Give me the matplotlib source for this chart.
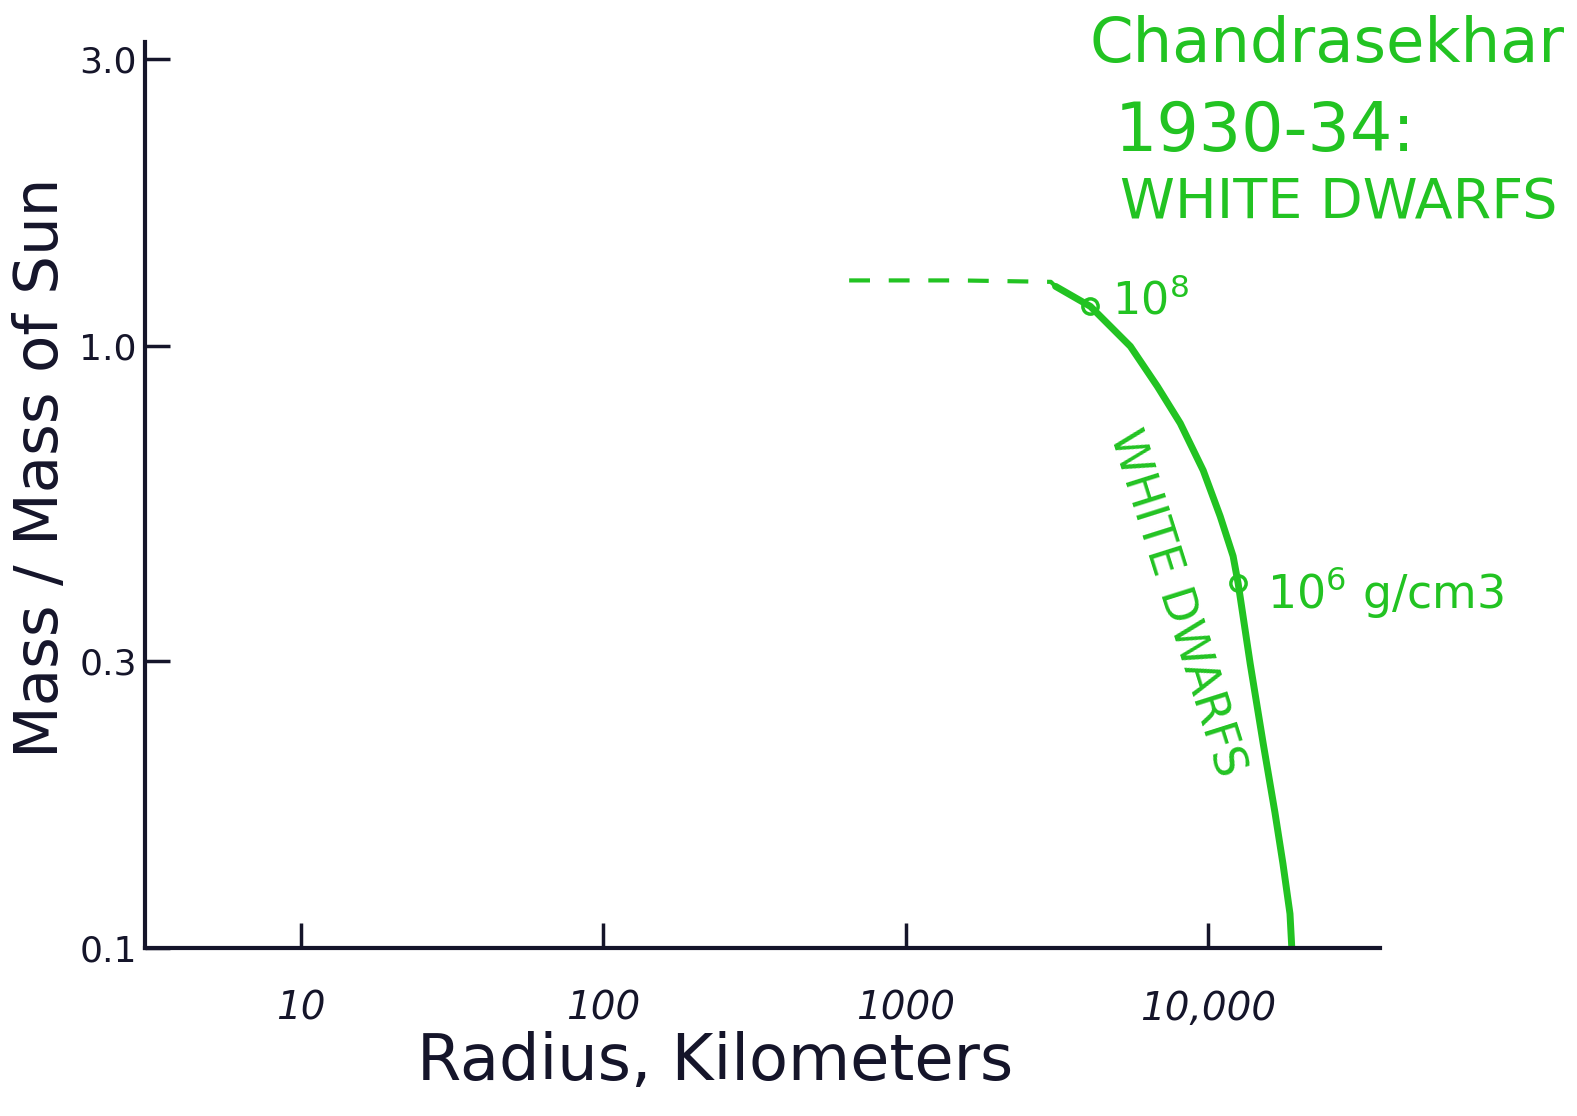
import matplotlib
matplotlib.use("Agg")
import matplotlib.pyplot as plt
from matplotlib.ticker import NullLocator

# Chandrasekhar white dwarf mass-radius relation
radius_dashed = [650, 1500, 3020, 3130]
mass_dashed = [1.287, 1.287, 1.28, 1.258]

radius_solid = [3130, 4083, 5534, 6796, 8091, 9636, 10965, 12100, 12570,
                13780, 15210, 16640, 17690, 18660, 18940]
mass_solid = [1.258, 1.165, 1.0, 0.858, 0.745, 0.622, 0.522, 0.448, 0.404,
              0.297, 0.219, 0.168, 0.138, 0.114, 0.099]

# density markers
radius_marks = [4083, 12570]
mass_marks = [1.165, 0.404]
mark_labels = [r"$10^8$", r"$10^6$ g/cm3"]

x_ticks = [10, 100, 1000, 10000]
x_ticklabels = ["10", "100", "1000", "10,000"]
y_ticks = [0.1, 0.3, 1.0, 3.0]
y_ticklabels = ["0.1", "0.3", "1.0", "3.0"]

green = "#22c322"
ink = "#15152a"

fig = plt.figure(figsize=(15.77, 11.16), dpi=100)
ax = fig.add_axes([0.092, 0.1505, 0.783, 0.8115])

ax.plot(radius_dashed, mass_dashed, color=green, lw=3, linestyle=(0, (5, 4.5)))
ax.plot(radius_solid, mass_solid, color=green, lw=5, solid_capstyle="round",
        solid_joinstyle="round")
ax.plot(radius_marks, mass_marks, "o", ms=11, mfc="none", mec=green, mew=2.5)

ax.text(radius_marks[0] * 1.18, mass_marks[0] * 0.97, mark_labels[0],
        color=green, fontsize=32, va="baseline", ha="left")
ax.text(radius_marks[1] * 1.25, mass_marks[1] * 0.91, mark_labels[1],
        color=green, fontsize=33, va="baseline", ha="left")

# label along the curve
ax.text(7790, 0.374, "WHITE DWARFS", color=green, fontsize=33,
        rotation=-72.5, ha="center", va="center", rotation_mode="anchor")

ax.set_xscale("log")
ax.set_yscale("log")
ax.set_xlim(3.05, 37000)
ax.set_ylim(0.1, 3.2)

ax.set_xticks(x_ticks)
ax.set_xticklabels(x_ticklabels, fontsize=28, style="italic")
ax.set_yticks(y_ticks)
ax.set_yticklabels(y_ticklabels, fontsize=26)
ax.xaxis.set_minor_locator(NullLocator())
ax.yaxis.set_minor_locator(NullLocator())
ax.tick_params(axis="both", direction="in", length=18, width=2.5, colors=ink)
ax.tick_params(axis="x", pad=30)
ax.tick_params(axis="y", pad=6)

for side in ["top", "right"]:
    ax.spines[side].set_visible(False)
for side in ["left", "bottom"]:
    ax.spines[side].set_linewidth(3)
    ax.spines[side].set_color(ink)

ax.set_xlabel("Radius, Kilometers", fontsize=46, color=ink)
ax.xaxis.set_label_coords(0.462, -0.092)
ax.set_ylabel("Mass / Mass of Sun", fontsize=44, color=ink)
ax.yaxis.set_label_coords(-0.06, 0.53)

fig.text(0.691, 0.960, "Chandrasekhar", color=green, fontsize=45, va="center", ha="left")
fig.text(0.707, 0.882, "1930-34:", color=green, fontsize=48, va="center", ha="left")
fig.text(0.710, 0.818, "WHITE DWARFS", color=green, fontsize=40, va="center", ha="left")

fig.savefig("out.png", dpi=100, facecolor="white")
